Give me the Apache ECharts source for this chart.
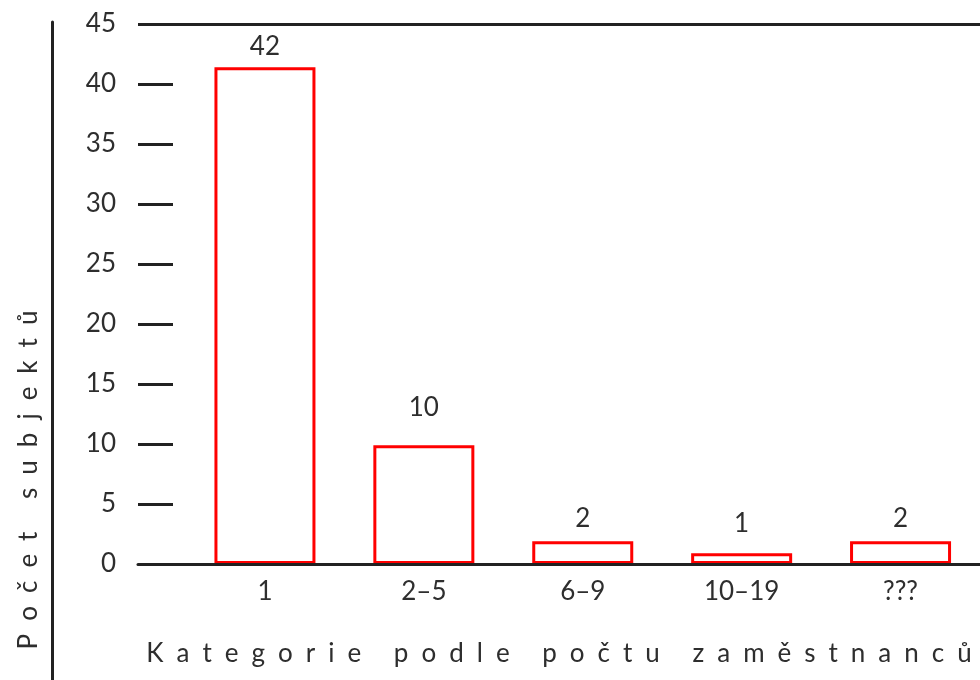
<!DOCTYPE html>
<html>
<head>
<meta charset="utf-8">
<script src="https://cdn.jsdelivr.net/npm/echarts@6/dist/echarts.min.js"></script>
<style>
  html, body { margin: 0; padding: 0; background: #fff; }
  #chart { width: 980px; height: 680px; }
</style>
</head>
<body>
<div id="chart"></div>
<script>
// data
let categories = ['1', '2–5', '6–9', '10–19', '???']
let barValues = [41.4, 9.9, 1.9, 0.9, 1.9]
let labelTexts = ['42', '10', '2', '1', '2']
let yTicks = [0, 5, 10, 15, 20, 25, 30, 35, 40, 45]
let xName = 'Kategorie podle počtu zaměstnanců'
let yName = 'Počet subjektů'

// odstupy popisků nad sloupci
let labelGap = [8, 25, 10, 17, 10]

// roztažené písmo (mezery mezi písmeny)
function spread(s) {
    return s.split('').join('\u2002')
}

let font = 'Lato'
let fs = 26
let ink = '#2e2e2e'
let line = '#222'

let chart = echarts.init(document.getElementById('chart'))

// jen krajní čáry (0 a 45) přes celou šířku
let splitColors = yTicks.map(function (v, i) {
    return (i === 0 || i === yTicks.length - 1) ? line : 'rgba(0,0,0,0)'
})

let option = {
    backgroundColor: '#fff',
    animation: false,
    grid: [
        { left: 185.5, width: 799, top: 24, bottom: 116 },
        { left: 138, width: 850, top: 24, bottom: 116 },
        { left: 52, width: 1, top: 22, bottom: 0 }
    ],
    xAxis: [
        {
            type: 'category',
            gridIndex: 0,
            data: categories,
            axisLine: { show: false },
            axisTick: { show: false },
            axisLabel: { margin: 15, fontFamily: font, fontSize: fs, color: ink }
        },
        {
            type: 'value',
            gridIndex: 1,
            min: 0,
            max: 1,
            offset: 58,
            axisLine: { show: true, lineStyle: { color: line, width: 3 } },
            axisTick: { show: false },
            axisLabel: { show: false },
            splitLine: { show: false },
            name: spread(xName),
            nameLocation: 'middle',
            nameGap: 19,
            nameTextStyle: { fontFamily: font, fontSize: fs, color: ink }
        },
        {
            type: 'value',
            gridIndex: 2,
            show: false,
            min: 0,
            max: 1
        }
    ],
    yAxis: [
        {
            type: 'value',
            gridIndex: 0,
            min: 0,
            max: 45,
            show: false
        },
        {
            type: 'value',
            gridIndex: 1,
            min: 0,
            max: 45,
            interval: 5,
            z: 5,
            axisLine: { show: false },
            axisTick: { show: true, inside: true, length: 35, lineStyle: { color: line, width: 3 } },
            axisLabel: { margin: 22, fontFamily: font, fontSize: fs, color: ink },
            splitLine: { show: true, lineStyle: { color: splitColors, width: 3 } }
        },
        {
            type: 'value',
            gridIndex: 2,
            min: 0,
            max: 1,
            axisLine: { show: true, lineStyle: { color: line, width: 3 } },
            axisTick: { show: false },
            axisLabel: { show: false },
            splitLine: { show: false },
            name: spread(yName),
            nameLocation: 'middle',
            nameGap: 10,
            nameTextStyle: { fontFamily: font, fontSize: fs, color: ink, padding: [0, 258, 0, 0] }
        }
    ],
    series: [
        {
            type: 'bar',
            xAxisIndex: 0,
            yAxisIndex: 0,
            barWidth: 101,
            data: barValues.map(function (v, i) {
                return { value: v, label: { distance: labelGap[i] } }
            }),
            itemStyle: { color: '#fff', borderColor: '#ff0000', borderWidth: 3 },
            label: {
                show: true,
                position: 'top',
                fontFamily: font,
                fontSize: fs,
                color: ink,
                formatter: function (p) {
                    return labelTexts[p.dataIndex]
                }
            }
        }
    ]
}

chart.setOption(option)
</script>
</body>
</html>
